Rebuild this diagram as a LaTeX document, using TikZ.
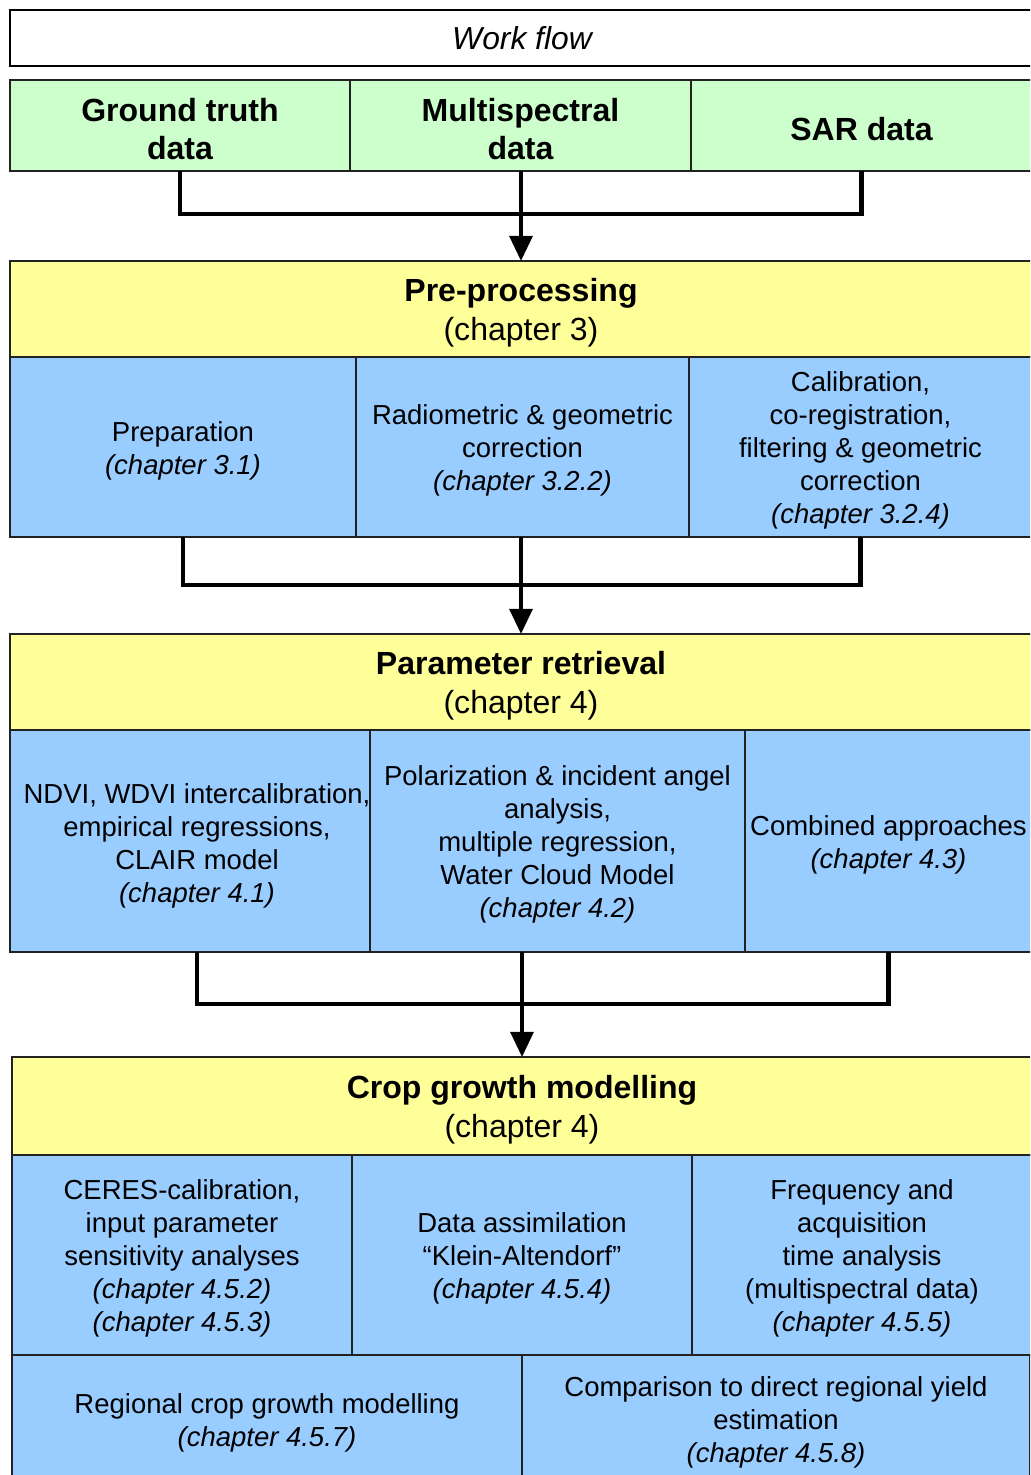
\documentclass[tikz,border=0pt]{standalone}
\usepackage{fontspec}
\setmainfont{Liberation Sans}
\usetikzlibrary{fit,arrows.meta}
\definecolor{datagreen}{HTML}{CCFFCC}
\definecolor{stageyellow}{HTML}{FFFF99}
\definecolor{taskblue}{HTML}{99CCFF}
\definecolor{edge}{HTML}{222222}
\tikzset{
  panel/.style={draw=edge, line width=0.85pt, inner sep=0pt, outer sep=0pt, align=center},
  titlebox/.style={panel, draw=black, line width=1.25pt, fill=white, font=\fontsize{13.3}{16}\selectfont\itshape},
  databox/.style={panel, fill=datagreen, font=\fontsize{13.4}{16}\selectfont\bfseries},
  stagebox/.style={panel, fill=stageyellow, font=\fontsize{13.4}{16.3}\selectfont},
  taskbox/.style={panel, fill=taskblue, font=\fontsize{11.5}{13.8}\selectfont},
  plain/.style={draw=none, fill=none, yshift=-1.6pt},
  conn/.style={draw=black, line width=1.7pt},
  flowarrow/.style={conn, -{Triangle[width=9.5pt,length=10.5pt]}}
}
% a framed panel between two corners, with its text centred in it
\newcommand\panel[7]{%
  \node[#1, fit={(#3,#4) (#5,#6)}] (#2) {};
  \node[#1, plain] (#2-text) at (#2.center) {#7};}
\begin{document}
\begin{tikzpicture}[x=0.4184pt, y=-0.4184pt]
\useasboundingbox (0,0) rectangle (1030,1475);
\clip (0,0) rectangle (1030,1475);

% heading
\node[titlebox, fit={(10,10) (1034,66)}] (wf) {};
\node[titlebox, draw=none, fill=none] (wf-text) at (wf.center) {Work flow};

% input data
\panel{databox}{gt}{10}{80}{350}{171}{Ground truth\\data}
\panel{databox}{ms}{350}{80}{691}{171}{Multispectral\\data}
\panel{databox}{sar}{691}{80}{1032}{171}{SAR data}

% pre-processing
\panel{stagebox}{pre}{10}{261}{1032}{357}{\textbf{Pre-processing}\\(chapter 3)}
\panel{taskbox}{prep}{10}{357}{356}{537}{Preparation\\\textit{(chapter 3.1)}}
\panel{taskbox}{rad}{356}{357}{689}{537}{Radiometric \& geometric\\correction\\\textit{(chapter 3.2.2)}}
\panel{taskbox}{cal}{689}{357}{1032}{537}{Calibration,\\co-registration,\\filtering \& geometric\\correction\\\textit{(chapter 3.2.4)}}

% parameter retrieval
\panel{stagebox}{par}{10}{634}{1032}{730}{\textbf{Parameter retrieval}\\(chapter 4)}
\node[taskbox, fit={(10,730) (370,952)}] (ndvi) {};
\node[taskbox, plain] (ndvi-text) at (197,842.5) {NDVI, WDVI intercalibration,\\empirical regressions,\\CLAIR model\\\textit{(chapter 4.1)}};
\panel{taskbox}{pol}{370}{730}{745}{952}{Polarization \& incident angel\\analysis,\\multiple regression,\\Water Cloud Model\\\textit{(chapter 4.2)}}
\panel{taskbox}{comb}{745}{730}{1032}{952}{Combined approaches\\\textit{(chapter 4.3)}}

% crop growth modelling
\panel{stagebox}{crop}{12}{1057}{1032}{1155}{\textbf{Crop growth modelling}\\(chapter 4)}
\panel{taskbox}{ceres}{12}{1155}{352}{1355}{CERES-calibration,\\input parameter\\sensitivity analyses\\\textit{(chapter 4.5.2)}\\\textit{(chapter 4.5.3)}}
\panel{taskbox}{assim}{352}{1155}{692}{1355}{Data assimilation\\“Klein-Altendorf”\\\textit{(chapter 4.5.4)}}
\panel{taskbox}{freq}{692}{1155}{1032}{1355}{Frequency and\\acquisition\\time analysis\\(multispectral data)\\\textit{(chapter 4.5.5)}}
\panel{taskbox}{reg}{12}{1355}{522}{1483}{Regional crop growth modelling\\\textit{(chapter 4.5.7)}}
\panel{taskbox}{cmp}{522}{1355}{1030}{1483}{Comparison to direct regional yield\\estimation\\\textit{(chapter 4.5.8)}}

% junctions of the connectors
\coordinate (j1) at (521,214);
\coordinate (j2) at (521,585);
\coordinate (j3) at (522,1004);

% data -> pre-processing
\draw[conn] (gt.south) |- (j1) -| (sar.south);
\draw[flowarrow] (ms.south -| j1) -- (pre.north -| j1);

% pre-processing -> parameter retrieval
\draw[conn] (prep.south) |- (j2) -| (cal.south);
\draw[flowarrow] (rad.south -| j2) -- (par.north -| j2);

% parameter retrieval -> crop growth modelling
\draw[conn] (ndvi.south -| ndvi-text) |- (j3) -| (comb.south);
\draw[flowarrow] (ndvi.south -| j3) -- (crop.north -| j3);
\end{tikzpicture}
\end{document}
